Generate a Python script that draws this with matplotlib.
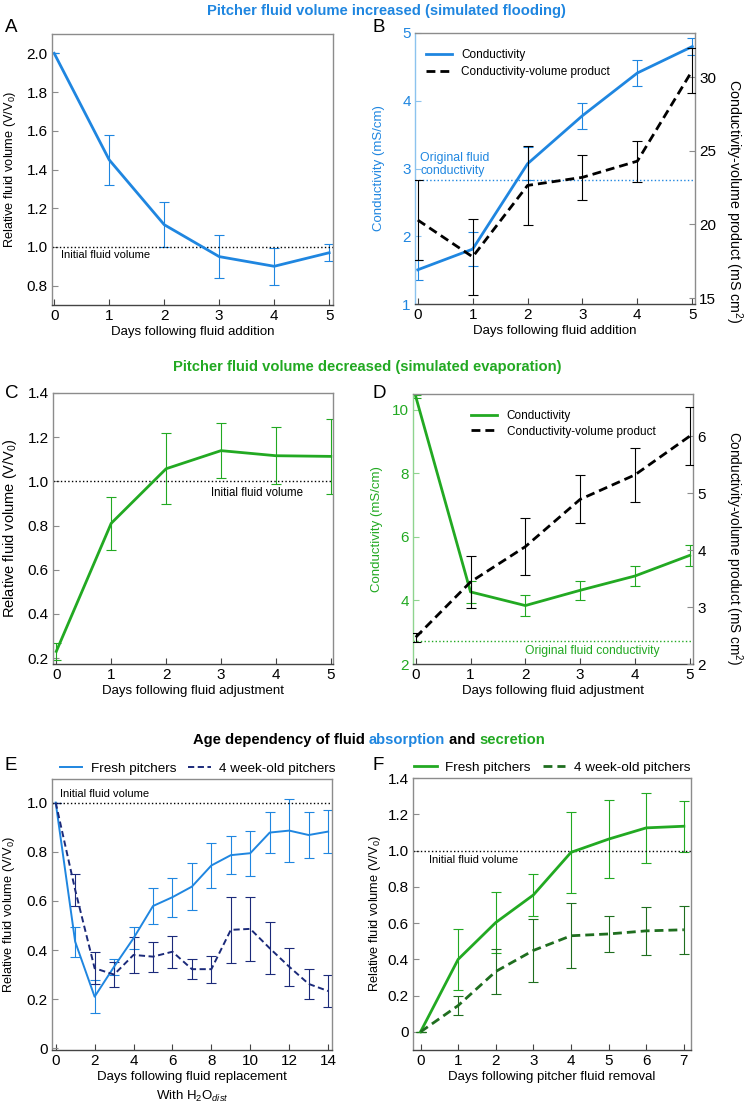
import numpy as np
import matplotlib
matplotlib.use('Agg')
import matplotlib.pyplot as plt
from matplotlib.lines import Line2D

plt.rcParams['font.family'] = ['Liberation Sans', 'DejaVu Sans']
plt.rcParams['mathtext.fontset'] = 'custom'
plt.rcParams['mathtext.rm'] = 'Liberation Sans'
plt.rcParams['mathtext.it'] = 'Liberation Sans:italic'
plt.rcParams['font.size'] = 9.5

BLUE = '#1f86e0'
LIGHTBLUE = '#8cc3ee'
GREEN = '#22a922'
LIGHTGREEN = '#8fd48f'
NAVY = '#1b2a7a'
DKGREEN = '#1f6e1f'
GRAY = '#8c8c8c'
DARK = '#444444'

# panel A: fluid added
days_a = [0, 1, 2, 3, 4, 5]
vol_a = [2.0, 1.45, 1.115, 0.95, 0.90, 0.97]
err_a = [0.0, 0.13, 0.115, 0.11, 0.095, 0.045]

# panel B
cond_b = [1.505, 1.81, 3.07, 3.78, 4.41, 4.80]
cond_b_err = [0.15, 0.25, 0.24, 0.19, 0.19, 0.12]
prod_b = [20.3, 17.8, 22.65, 23.2, 24.3, 30.45]
prod_b_err = [2.7, 2.6, 2.7, 1.55, 1.4, 1.5]
orig_b = 2.83

# panel C: fluid removed
vol_c = [0.23, 0.81, 1.057, 1.139, 1.116, 1.113]
err_c = [0.04, 0.12, 0.16, 0.125, 0.13, 0.17]

# panel D
cond_d = [10.42, 4.27, 3.84, 4.32, 4.77, 5.42]
cond_d_err = [0.06, 0.35, 0.32, 0.29, 0.33, 0.33]
prod_d = [2.47, 3.44, 4.06, 4.89, 5.32, 6.0]
prod_d_err = [0.08, 0.45, 0.5, 0.42, 0.48, 0.51]
orig_d = 2.71

# panel E: replacement with distilled water
days_e = list(range(15))
fresh_e = [1.0, 0.434, 0.21, 0.332, 0.448, 0.579, 0.615, 0.658, 0.744, 0.786,
           0.794, 0.878, 0.886, 0.868, 0.882]
fresh_e_err = [0, 0.061, 0.066, 0.033, 0.045, 0.072, 0.08, 0.095, 0.092, 0.078,
               0.092, 0.083, 0.128, 0.093, 0.087]
old_e = [1.0, 0.645, 0.326, 0.30, 0.38, 0.373, 0.393, 0.322, 0.322, 0.482,
         0.486, 0.407, 0.332, 0.262, 0.233]
old_e_err = [0, 0.065, 0.065, 0.05, 0.074, 0.061, 0.065, 0.042, 0.055, 0.133,
             0.129, 0.105, 0.077, 0.062, 0.064]

# panel F: fluid removal
days_f = list(range(8))
fresh_f = [0, 0.40, 0.603, 0.755, 0.99, 1.063, 1.125, 1.134]
fresh_f_err = [0, 0.17, 0.17, 0.115, 0.225, 0.217, 0.195, 0.14]
old_f = [0, 0.145, 0.333, 0.449, 0.53, 0.54, 0.557, 0.563]
old_f_err = [0, 0.053, 0.124, 0.173, 0.18, 0.097, 0.132, 0.133]

VLABEL = 'Relative fluid volume (V/V$_\\mathrm{0}$)'
PLABEL = 'Conductivity-volume product (mS cm$^\\mathrm{2}$)'
DASH = (0, (3.2, 1.8))
TICK = 11
LW = 2.0

fig = plt.figure(figsize=(7.44, 11.12), dpi=100)


def box(ax):
    for s in ax.spines.values():
        s.set_color(GRAY)
        s.set_linewidth(1.0)
    ax.spines['bottom'].set_color(DARK)
    ax.tick_params(direction='in', length=4, width=0.8, color=GRAY,
                   labelsize=TICK, pad=3)
    ax.tick_params(axis='x', color=DARK)
    ax.tick_params(axis='y', right=False)
    ax.tick_params(axis='x', top=False)


def add(rect):
    l, t, r, b = rect
    return fig.add_axes([l / 744, 1 - b / 1112, (r - l) / 744, (b - t) / 1112])


def curve(ax, x, y, e, color, lw=LW, ls='-', ecolor=None):
    ax.errorbar(x, y, yerr=e, color=color, lw=lw, ls=ls, ecolor=ecolor or color,
                elinewidth=0.8, capsize=3.5, capthick=0.8)


def twin(ax):
    ax2 = ax.twinx()
    for s in ax2.spines.values():
        s.set_visible(False)
    ax2.tick_params(direction='in', length=4, width=0.8, color=GRAY,
                    labelsize=TICK, pad=3)
    return ax2


def ylab(ax, text, x, y=0.5, **kw):
    ax.set_ylabel(text, va='center', **kw)
    ax.yaxis.set_label_coords(x, y)


# ---- A
ax = add((52, 34, 333, 305))
box(ax)
curve(ax, days_a, vol_a, err_a, BLUE)
ax.axhline(1.0, color='k', ls=':', lw=1.0)
ax.text(0.12, 0.985, 'Initial fluid volume', fontsize=8, va='top')
ax.set_xlim(-0.04, 5.07)
ax.set_ylim(0.7, 2.1)
ax.set_yticks([0.8, 1.0, 1.2, 1.4, 1.6, 1.8, 2.0])
ax.set_yticklabels(['0.8', '1.0', '1.2', '1.4', '1.6', '1.8', '2.0'])
ax.set_xticks(days_a)
ax.set_xlabel('Days following fluid addition', labelpad=2)
ylab(ax, VLABEL, -0.148, fontsize=9.2)

# ---- B
ax = add((415, 33, 695, 304))
box(ax)
ax.spines['left'].set_color(LIGHTBLUE)
ax.tick_params(axis='y', colors=BLUE)
ax.tick_params(axis='y', color=LIGHTBLUE)
curve(ax, days_a, cond_b, cond_b_err, BLUE)
ax.axhline(orig_b, color=BLUE, ls=':', lw=1.0)
ax.text(0.05, orig_b + 0.05, 'Original fluid\nconductivity', color=BLUE,
        fontsize=8.8, va='bottom', linespacing=1.1)
ax.set_xlim(-0.05, 5.05)
ax.set_ylim(1, 5)
ax.set_yticks([1, 2, 3, 4, 5])
ax.set_xticks(days_a)
ax.set_xlabel('Days following fluid addition', labelpad=2)
ylab(ax, 'Conductivity (mS/cm)', -0.13, color=BLUE, fontsize=9.5)
ax2 = twin(ax)
curve(ax2, days_a, prod_b, prod_b_err, 'k', ls=DASH)
ax2.set_ylim(14.6, 33.0)
ax2.set_yticks([15, 20, 25, 30])
ax2.set_ylabel(PLABEL, rotation=270, fontsize=10.3, va='center')
ax2.yaxis.set_label_coords(1.14, 0.38)
handles = [Line2D([], [], color=BLUE, lw=LW),
           Line2D([], [], color='k', lw=LW, ls=DASH)]
ax2.legend(handles, ['Conductivity', 'Conductivity-volume product'],
           loc='upper left', frameon=False, fontsize=8.5, handlelength=2.2,
           bbox_to_anchor=(0.0, 0.98), labelspacing=0.4)

# ---- C
ax = add((53, 393, 333, 664))
box(ax)
curve(ax, days_a, vol_c, err_c, GREEN)
ax.axhline(1.0, color='k', ls=':', lw=1.0)
ax.text(3.65, 0.975, 'Initial fluid volume', fontsize=8.3, va='top', ha='center')
ax.set_xlim(-0.06, 5.04)
ax.set_ylim(0.173, 1.4)
ax.set_yticks([0.2, 0.4, 0.6, 0.8, 1.0, 1.2, 1.4])
ax.set_yticklabels(['0.2', '0.4', '0.6', '0.8', '1.0', '1.2', '1.4'])
ax.set_xticks(days_a)
ax.set_xlabel('Days following fluid adjustment', labelpad=2)
ylab(ax, VLABEL, -0.155, fontsize=10.5)

# ---- D
ax = add((413, 394, 693, 664))
box(ax)
ax.spines['left'].set_color(LIGHTGREEN)
ax.tick_params(axis='y', colors=GREEN)
ax.tick_params(axis='y', color=LIGHTGREEN)
curve(ax, days_a, cond_d, cond_d_err, GREEN)
ax.axhline(orig_d, color=GREEN, ls=':', lw=1.0)
ax.text(3.22, orig_d - 0.12, 'Original fluid conductivity', color=GREEN,
        fontsize=8.7, va='top', ha='center')
ax.set_xlim(-0.05, 5.06)
ax.set_ylim(2, 10.5)
ax.set_yticks([2, 4, 6, 8, 10])
ax.set_xticks(days_a)
ax.set_xlabel('Days following fluid adjustment', labelpad=2)
ylab(ax, 'Conductivity (mS/cm)', -0.13, color=GREEN, fontsize=9.5)
ax2 = twin(ax)
curve(ax2, days_a, prod_d, prod_d_err, 'k', ls=DASH)
ax2.set_ylim(2, 6.74)
ax2.set_yticks([2, 3, 4, 5, 6])
ax2.set_ylabel(PLABEL, rotation=270, fontsize=9.8, va='center')
ax2.yaxis.set_label_coords(1.145, 0.43)
handles = [Line2D([], [], color=GREEN, lw=LW),
           Line2D([], [], color='k', lw=LW, ls=DASH)]
ax2.legend(handles, ['Conductivity', 'Conductivity-volume product'],
           loc='upper left', frameon=False, fontsize=8.5, handlelength=2.2,
           bbox_to_anchor=(0.17, 0.98), labelspacing=0.3)

# ---- E
ax = add((52, 779, 332, 1050))
box(ax)
curve(ax, days_e, fresh_e, fresh_e_err, BLUE, lw=1.4)
curve(ax, days_e, old_e, old_e_err, NAVY, lw=1.4, ls=DASH)
ax.axhline(1.0, color='k', ls=':', lw=1.0)
ax.text(0.2, 1.015, 'Initial fluid volume', fontsize=8, va='bottom')
ax.set_xlim(-0.19, 14.2)
ax.set_ylim(-0.007, 1.096)
ax.set_yticks([0, 0.2, 0.4, 0.6, 0.8, 1.0])
ax.set_yticklabels(['0', '0.2', '0.4', '0.6', '0.8', '1.0'])
ax.set_xticks(range(0, 15, 2))
ax.set_xlabel('Days following fluid replacement\nWith H$_\\mathrm{2}$O$_{dist}$',
              labelpad=2, linespacing=1.5)
ylab(ax, VLABEL, -0.152, fontsize=9.2)
handles = [Line2D([], [], color=BLUE, lw=1.4),
           Line2D([], [], color=NAVY, lw=1.4, ls=DASH)]
ax.legend(handles, ['Fresh pitchers', '4 week-old pitchers'], ncol=2,
          loc='lower center', bbox_to_anchor=(0.52, 0.99), frameon=False,
          fontsize=9.7, handlelength=1.7, handletextpad=0.6, columnspacing=0.9,
          borderaxespad=0.1)

# ---- F
ax = add((413, 778, 691, 1050))
box(ax)
curve(ax, days_f, fresh_f, fresh_f_err, GREEN)
curve(ax, days_f, old_f, old_f_err, DKGREEN, ls=DASH)
ax.axhline(1.0, color='k', ls=':', lw=1.0)
ax.text(0.22, 0.975, 'Initial fluid volume', fontsize=8, va='top')
ax.set_xlim(-0.2, 7.19)
ax.set_ylim(-0.1, 1.4)
ax.set_yticks([0, 0.2, 0.4, 0.6, 0.8, 1.0, 1.2, 1.4])
ax.set_yticklabels(['0', '0.2', '0.4', '0.6', '0.8', '1.0', '1.2', '1.4'])
ax.set_xticks(days_f)
ax.set_xlabel('Days following pitcher fluid removal', labelpad=2)
ylab(ax, VLABEL, -0.135, fontsize=9.2)
handles = [Line2D([], [], color=GREEN, lw=LW),
           Line2D([], [], color=DKGREEN, lw=LW, ls=DASH)]
ax.legend(handles, ['Fresh pitchers', '4 week-old pitchers'], ncol=2,
          loc='lower center', bbox_to_anchor=(0.5, 0.99), frameon=False,
          fontsize=9.7, handlelength=1.7, handletextpad=0.6, columnspacing=0.9,
          borderaxespad=0.1)

# panel letters
for lab, x, y in [('A', 5, 27), ('B', 373, 27), ('C', 5, 393), ('D', 372, 393),
                  ('E', 5, 766), ('F', 373, 766)]:
    fig.text(x / 744, 1 - y / 1112, lab, fontsize=13.5, va='center', ha='left')

# section titles
fig.text(0.52, 1 - 11 / 1112, 'Pitcher fluid volume increased (simulated flooding)',
         color=BLUE, fontweight='bold', ha='center', va='center', fontsize=10.6)
fig.text(0.493, 1 - 367 / 1112, 'Pitcher fluid volume decreased (simulated evaporation)',
         color=GREEN, fontweight='bold', ha='center', va='center', fontsize=10.6)

parts = [('Age dependency of fluid ', 'k'), ('absorption', BLUE),
         (' and ', 'k'), ('secretion', GREEN)]
renderer = fig.canvas.get_renderer()
texts = []
for s, c in parts:
    t = fig.text(0, 1 - 740 / 1112, s, color=c, fontweight='bold',
                 va='center', ha='left', fontsize=10.6)
    texts.append(t)
widths = [t.get_window_extent(renderer).width for t in texts]
x0 = 0.496 * 744 - sum(widths) / 2
for t, w in zip(texts, widths):
    t.set_x(x0 / 744)
    x0 += w

fig.savefig('out.png', dpi=100)
